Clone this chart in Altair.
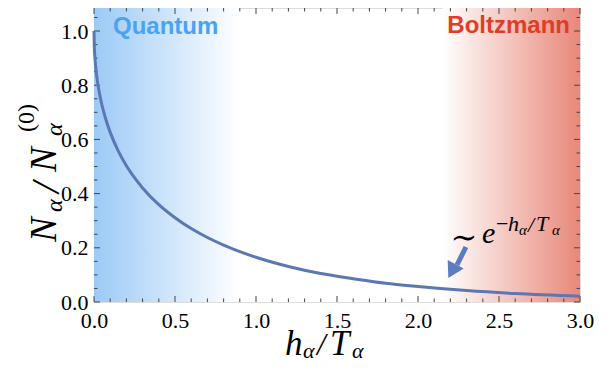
import altair as alt
import pandas as pd

# ---- data ----
x_vals = [0.0, 0.002, 0.005, 0.01, 0.02, 0.04, 0.07, 0.1, 0.15, 0.2, 0.3, 0.4, 0.5,
          0.6, 0.7, 0.8, 1.0, 1.2, 1.4, 1.6, 1.8, 2.0, 2.3, 2.6, 3.0]
y_vals = [1.0, 0.940, 0.907, 0.870, 0.819, 0.751, 0.680, 0.626, 0.557, 0.503, 0.421,
          0.359, 0.311, 0.271, 0.238, 0.210, 0.165, 0.131, 0.105, 0.086, 0.069, 0.057,
          0.042, 0.031, 0.021]

x_major = [0.0, 0.5, 1.0, 1.5, 2.0, 2.5, 3.0]
x_minor = [0.1, 0.2, 0.3, 0.4, 0.6, 0.7, 0.8, 0.9, 1.1, 1.2, 1.3, 1.4, 1.6, 1.7, 1.8, 1.9,
           2.1, 2.2, 2.3, 2.4, 2.6, 2.7, 2.8, 2.9]
y_major = [0.0, 0.2, 0.4, 0.6, 0.8, 1.0]
y_minor = [0.05, 0.1, 0.15, 0.25, 0.3, 0.35, 0.45, 0.5, 0.55, 0.65, 0.7, 0.75, 0.85, 0.9,
           0.95, 1.05]

quantum_region = [0.0, 0.9]
boltz_region = [2.15, 3.0]

arrow_x = [2.296, 2.241]
arrow_y = [0.203, 0.137]
arrow_head = [2.21, 0.114]

SERIF = "Liberation Serif"
W, H = 486, 294
xs = alt.Scale(domain=[0, 3], nice=False, zero=False)
ys = alt.Scale(domain=[0, 1.085], nice=False, zero=False)

AX = alt.Axis(values=x_major, format=".1f", title=None, ticks=False, domain=False,
              grid=False, labelFont=SERIF, labelFlush=False, labelFontSize=22,
              labelColor="black", labelPadding=8)
AY = alt.Axis(values=y_major, format=".1f", title=None, ticks=False, domain=False,
              grid=False, labelFont=SERIF, labelFlush=False, labelFontSize=22,
              labelColor="black", labelPadding=6)


def XQ(f):
    return alt.X(f, type="quantitative", scale=xs, axis=AX)


def YQ(f):
    return alt.Y(f, type="quantitative", scale=ys, axis=AY)


curve_df = pd.DataFrame({"x": x_vals, "y": y_vals})


def region(lo, hi, c0, c1):
    return alt.Chart(pd.DataFrame({"a": [lo], "b": [hi]})).mark_rect(
        color=alt.Gradient(gradient="linear",
                           stops=[alt.GradientStop(color=c0, offset=0),
                                  alt.GradientStop(color=c1, offset=1)],
                           x1=0, x2=1, y1=0, y2=0)
    ).encode(x=XQ("a"), x2="b", y=alt.value(0), y2=alt.value(H))


blue = region(quantum_region[0], quantum_region[1], "#9ccaf6", "#ffffff")
red = region(boltz_region[0], boltz_region[1], "#ffffff", "#e8887a")


def xticks(vals, ln):
    d = pd.DataFrame({"v": vals})
    b = alt.Chart(d).mark_rule(color="#444", strokeWidth=1).encode(
        x=XQ("v"), y=alt.value(H), y2=alt.value(H - ln))
    t = alt.Chart(d).mark_rule(color="#444", strokeWidth=1).encode(
        x=XQ("v"), y=alt.value(0), y2=alt.value(ln))
    return [b, t]


def yticks(vals, ln):
    d = pd.DataFrame({"v": vals})
    l = alt.Chart(d).mark_rule(color="#444", strokeWidth=1).encode(
        y=YQ("v"), x=alt.value(0), x2=alt.value(ln))
    r = alt.Chart(d).mark_rule(color="#444", strokeWidth=1).encode(
        y=YQ("v"), x=alt.value(W), x2=alt.value(W - ln))
    return [l, r]


ticks = xticks(x_major, 6) + xticks(x_minor, 3.5) + yticks(y_major, 6) + yticks(y_minor, 3.5)

curve = alt.Chart(curve_df).mark_line(color="#5b77b4", strokeWidth=3,
                                      interpolate="monotone").encode(x=XQ("x"), y=YQ("y"))

shaft = alt.Chart(pd.DataFrame({"x": arrow_x, "y": arrow_y})).mark_line(
    color="#5a7dc0", strokeWidth=5).encode(x=XQ("x"), y=YQ("y"))
head = alt.Chart(pd.DataFrame({"x": [arrow_head[0]], "y": [arrow_head[1]]})).mark_point(
    shape="triangle-up", filled=True, opacity=1, color="#5a7dc0", size=330, angle=208
).encode(x=XQ("x"), y=YQ("y"))


def txt(s, x, y, size, italic=True, font=SERIF, angle=0, align="left",
        baseline="alphabetic", color="black", weight="normal"):
    return alt.Chart(pd.DataFrame({"t": [s]})).mark_text(
        align=align, baseline=baseline, font=font, fontSize=size,
        fontStyle="italic" if italic else "normal", angle=angle, color=color,
        fontWeight=weight
    ).encode(text="t:N", x=alt.value(x), y=alt.value(y))


# page coords -> plot coords: subtract (94, 8)
def P(px, py):
    return px - 94, py - 8


texts = []
# region labels
texts.append(txt("Quantum", *P(113, 27), 24, italic=False, font="Liberation Sans",
                 baseline="middle", color="#4aa3f2", weight="bold"))
texts.append(txt("Boltzmann", *P(570, 26), 24, italic=False, font="Liberation Sans",
                 baseline="middle", color="#e03c28", weight="bold", align="right"))
# x title  h_a / T_a
texts.append(txt("h", *P(285, 355), 35))
texts.append(txt("α", *P(303, 358), 22))
texts.append(txt("/", *P(317, 355), 31))
texts.append(txt("T", *P(330, 355), 35))
texts.append(txt("α", *P(352, 358), 22))
# y title  N_a / N_a^(0)
texts.append(txt("N", *P(56, 242), 37, angle=270))
texts.append(txt("α", *P(62, 212), 24, angle=270))
texts.append(txt("/", *P(59, 193), 40, angle=270))
texts.append(txt("N", *P(56, 172), 37, angle=270))
texts.append(txt("α", *P(62, 136), 24, angle=270))
texts.append(txt("(0)", *P(34, 132), 24, italic=False, angle=270))
# annotation  ~ e^{-h_a/T_a}
texts.append(txt("∼", *P(464, 238), 32, italic=False, font="DejaVu Serif",
                 align="center", baseline="middle"))
texts.append(txt("e", *P(482, 243), 30))
texts.append(txt("−", *P(496, 231), 22, italic=False))
texts.append(txt("h", *P(508, 231), 22))
texts.append(txt("α", *P(519, 235), 15))
texts.append(txt("/", *P(528, 232), 22))
texts.append(txt("T", *P(536, 231), 22))
texts.append(txt("α", *P(552, 235), 15))

chart = alt.layer(blue, red, *ticks, curve, shaft, head, *texts).properties(
    width=W, height=H,
    autosize=alt.AutoSizeParams(type="none"),
    padding={"left": 86, "top": 0, "right": 26, "bottom": 60},
).configure_view(stroke="#888888", strokeWidth=1.5).configure(
    background="white"
).configure_axis(labelFont=SERIF, labelFontSize=22, labelFlush=False, grid=False,
                 domain=False, ticks=False)

chart.save("out.html", embed_options={"renderer": "svg", "actions": False})
